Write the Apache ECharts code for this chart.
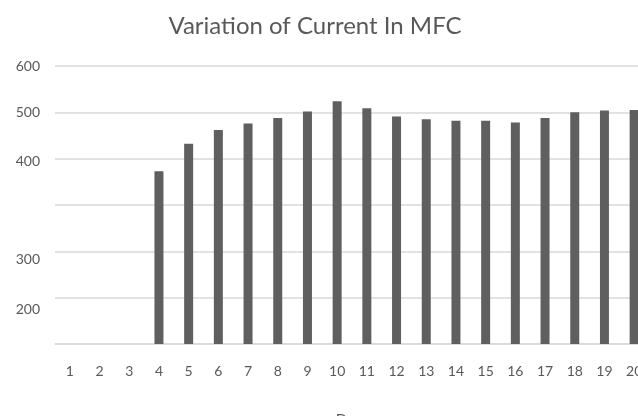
<!DOCTYPE html>
<html><head><meta charset="utf-8">
<script src="https://cdn.jsdelivr.net/npm/echarts@6/dist/echarts.min.js"></script>
<style>html,body{margin:0;padding:0;background:#fff}#c{width:638px;height:416px}</style>
</head><body><div id="c"></div>
<script>
const titleText = 'Variation of Current In MFC';
const xName = 'Days';
const days = ['1','2','3','4','5','6','7','8','9','10','11','12','13','14','15','16','17','18','19','20'];
const current = [null, null, null, 373, 432, 462, 476, 488, 502, 524, 509, 491, 485, 482, 482, 478, 488, 500, 504, 505];
const tickLabels = {600:'600', 500:'500', 400:'400', 300:'', 200:'300', 100:'200', 0:''};
const labelShift = {600:'a', 500:'a', 400:'b', 300:'a', 200:'c', 100:'d', 0:'a'};

const chart = echarts.init(document.getElementById('c'));
const font = 'Lato, "Open Sans", sans-serif';
chart.setOption({
  animation: false,
  title: {text: titleText, left: 310, top: 9, textAlign: 'center',
    textStyle: {fontFamily: font, fontSize: 24, fontWeight: 'normal', color: '#595959'}},
  grid: {left: 55, right: -11, top: 66, bottom: 72, containLabel: false, outerBoundsMode: 'none'},
  xAxis: {type: 'category', data: days,
    name: xName, nameLocation: 'middle', nameGap: 69,
    nameTextStyle: {fontFamily: font, fontSize: 15, color: '#595959'},
    axisLine: {lineStyle: {color: '#d9d9d9', width: 1.5}},
    axisTick: {show: false},
    axisLabel: {margin: 20, fontFamily: font, fontSize: 14, color: '#595959', interval: 0}},
  yAxis: {type: 'value', min: 0, max: 600, interval: 100,
    axisLine: {show: false}, axisTick: {show: false},
    splitLine: {lineStyle: {color: '#d9d9d9', width: 1.5}},
    axisLabel: {margin: 15, fontFamily: font, fontSize: 14, color: '#595959',
      formatter: v => '{' + labelShift[v] + '|' + tickLabels[v] + '}',
      rich: {
        a: {fontFamily: font, fontSize: 14, color: '#595959'},
        b: {fontFamily: font, fontSize: 14, color: '#595959', padding: [6,0,0,0]},
        c: {fontFamily: font, fontSize: 14, color: '#595959', padding: [16,0,0,0]},
        d: {fontFamily: font, fontSize: 14, color: '#595959', padding: [24,0,0,0]}
      }}},
  series: [{type: 'bar', data: current, barWidth: 9,
    itemStyle: {color: '#5f5f5f'}}]
});
</script></body></html>
